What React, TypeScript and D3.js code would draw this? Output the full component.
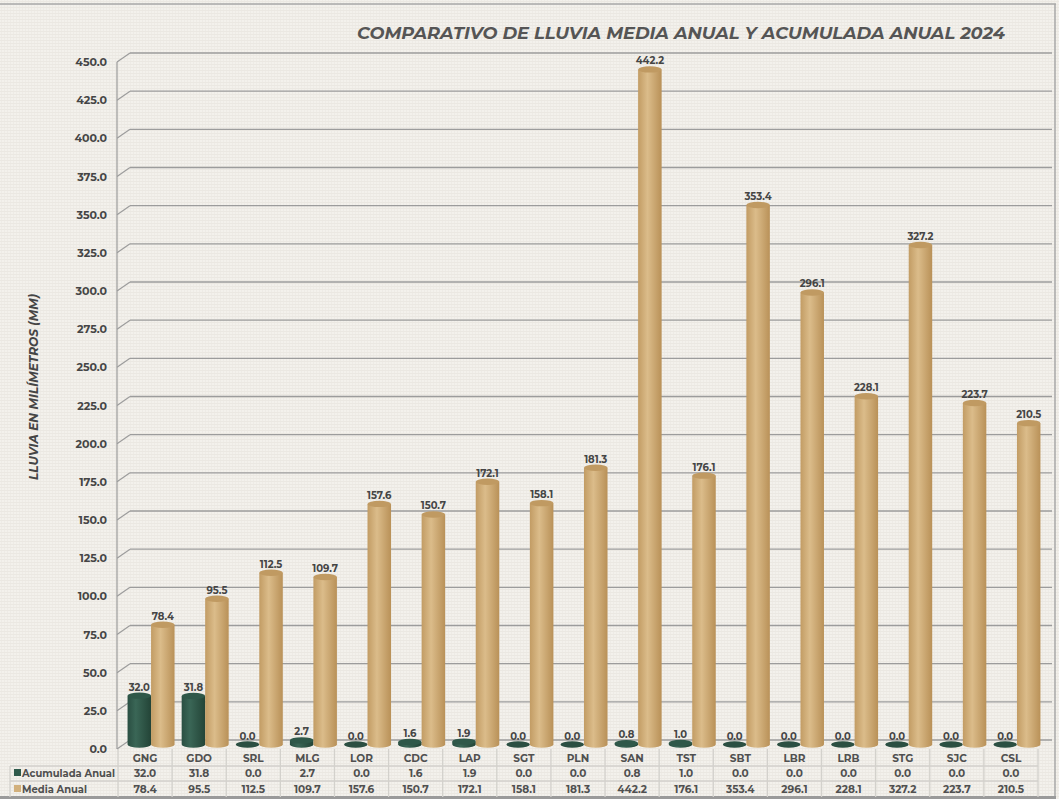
import React from 'react';
import * as d3 from 'd3';

const categories = ['GNG', 'GDO', 'SRL', 'MLG', 'LOR', 'CDC', 'LAP', 'SGT', 'PLN', 'SAN', 'TST', 'SBT', 'LBR', 'LRB', 'STG', 'SJC', 'CSL'];
const acumulada = [32.0, 31.8, 0.0, 2.7, 0.0, 1.6, 1.9, 0.0, 0.0, 0.8, 1.0, 0.0, 0.0, 0.0, 0.0, 0.0, 0.0];
const media = [78.4, 95.5, 112.5, 109.7, 157.6, 150.7, 172.1, 158.1, 181.3, 442.2, 176.1, 353.4, 296.1, 228.1, 327.2, 223.7, 210.5];
const yTicks = d3.range(0, 451, 25);

const W = 1059;
const H = 799;
const DX = 13;
const DY = -9;
const FONT = "Montserrat, 'Open Sans', 'DejaVu Sans', sans-serif";
const TXT = '#454545';

const x = d3.scaleBand<string>().domain(categories).range([118, 1038]);
const y = d3.scaleLinear().domain([0, 450]).range([749, 62]);

const BAR_W = 23.5;
const RX = BAR_W / 2;
const RY = 3.2;

function Cylinder({ cx, value, fillId, topFill, flat }: { cx: number; value: number; fillId: string; topFill: string; flat: string }) {
  const base = y(0) + DY / 2;
  const top = y(value) + DY / 2;
  const x0 = cx - RX;
  if (value < 0.5) {
    return <ellipse cx={cx} cy={base} rx={RX} ry={RY} fill={flat} />;
  }
  const body = `M${x0},${top} L${x0},${base} A${RX},${RY} 0 0 0 ${x0 + BAR_W},${base} L${x0 + BAR_W},${top} Z`;
  return (
    <g>
      <path d={body} fill={`url(#${fillId})`} />
      <ellipse cx={cx} cy={top} rx={RX} ry={RY} fill={topFill} />
    </g>
  );
}

export default function App() {
  const bw = x.bandwidth();
  const tableTop = 749;
  const rows = [766, 781, 797];
  return (
    <svg width={W} height={H} style={{ position: 'absolute', left: 0, top: 0 }} fontFamily={FONT}>
      <defs>
        <pattern id="tex" width="6" height="6" patternUnits="userSpaceOnUse">
          <rect width="6" height="6" fill="#f3f1ec" />
          <path d="M0,1.5 H6 M0,4.5 H6" stroke="#e9e6df" strokeWidth="0.8" />
          <path d="M1.5,0 V6 M4.5,0 V6" stroke="#ebe8e2" strokeWidth="0.6" />
        </pattern>
        <linearGradient id="gDark" x1="0" x2="1" y1="0" y2="0">
          <stop offset="0" stopColor="#2a4f42" />
          <stop offset="0.35" stopColor="#3a6656" />
          <stop offset="1" stopColor="#234437" />
        </linearGradient>
        <linearGradient id="gTan" x1="0" x2="1" y1="0" y2="0">
          <stop offset="0" stopColor="#c29c64" />
          <stop offset="0.4" stopColor="#dbbc8a" />
          <stop offset="1" stopColor="#b99158" />
        </linearGradient>
      </defs>
      <rect width={W} height={H} fill="url(#tex)" />
      <line x1={0} x2={1056} y1={4} y2={4} stroke="#a8a8a8" strokeWidth={1.5} />
      <line x1={1055} x2={1055} y1={4} y2={797} stroke="#a8a8a8" strokeWidth={1.5} />
      <line x1={0} x2={1056} y1={797.5} y2={797.5} stroke="#9a9a9a" strokeWidth={3} />

      <text x={681} y={39} textAnchor="middle" fontSize={17} fontWeight={700} fontStyle="italic" fill="#555" textLength={648} lengthAdjust="spacingAndGlyphs">
        COMPARATIVO  DE LLUVIA MEDIA ANUAL Y ACUMULADA ANUAL 2024
      </text>

      {/* gridlines on the back wall */}
      {yTicks.map((t) => (
        <g key={t}>
          <line x1={117 + DX} x2={1052} y1={y(t) + DY} y2={y(t) + DY} stroke="#9c9c9c" strokeWidth={1.4} />
          <line x1={117} x2={117 + DX} y1={y(t)} y2={y(t) + DY} stroke="#9c9c9c" strokeWidth={1.2} />
          <text x={107} y={y(t) + 4} textAnchor="end" fontSize={11} fontWeight={700} fill={TXT}>
            {t.toFixed(1)}
          </text>
        </g>
      ))}
      <line x1={117} x2={117} y1={y(450)} y2={y(0)} stroke="#9c9c9c" strokeWidth={1.2} />

      <text transform={`translate(38,387) rotate(-90)`} textAnchor="middle" fontSize={12} fontWeight={700} fontStyle="italic" fill={TXT} textLength={186} lengthAdjust="spacingAndGlyphs">
        LLUVIA EN MILÍMETROS (MM)
      </text>

      {/* bars */}
      {categories.map((c, i) => {
        const center = (x(c) as number) + bw / 2 + 6;
        const cxA = center - BAR_W / 2;
        const cxM = center + BAR_W / 2;
        return (
          <g key={c}>
            <Cylinder cx={cxA} value={acumulada[i]} fillId="gDark" topFill="#2f5849" flat="#2b4f42" />
            <Cylinder cx={cxM} value={media[i]} fillId="gTan" topFill="#c09a62" flat="#c09a62" />
            <text x={cxA} y={y(acumulada[i]) + DY / 2 - 5} textAnchor="middle" fontSize={10} fontWeight={700} fill={TXT}>
              {acumulada[i].toFixed(1)}
            </text>
            <text x={cxM} y={y(media[i]) + DY / 2 - 5} textAnchor="middle" fontSize={10} fontWeight={700} fill={TXT}>
              {media[i].toFixed(1)}
            </text>
          </g>
        );
      })}

      {/* data table */}
      <g stroke="#d3d1cc" strokeWidth={1.3}>
        <line x1={10} x2={1038} y1={rows[0]} y2={rows[0]} />
        <line x1={10} x2={1038} y1={rows[1]} y2={rows[1]} />
        <line x1={10} x2={10} y1={rows[0]} y2={rows[2]} />
        {categories.map((c) => (
          <line key={c} x1={x(c) as number} x2={x(c) as number} y1={tableTop} y2={rows[2]} />
        ))}
        <line x1={1038} x2={1038} y1={tableTop} y2={rows[2]} />
      </g>
      {categories.map((c, i) => {
        const cx = (x(c) as number) + bw / 2;
        return (
          <g key={c} fontSize={10.5} fontWeight={700} fill="#505050" textAnchor="middle">
            <text x={cx} y={762}>{c}</text>
            <text x={cx} y={777}>{acumulada[i].toFixed(1)}</text>
            <text x={cx} y={793}>{media[i].toFixed(1)}</text>
          </g>
        );
      })}
      <rect x={14} y={769} width={7} height={7} fill="#2f5a4b" />
      <text x={22} y={777} fontSize={10.5} fontWeight={700} fill="#505050" textLength={93} lengthAdjust="spacingAndGlyphs">Acumulada Anual</text>
      <rect x={14} y={785} width={7} height={7} fill="#d2b07c" />
      <text x={22} y={793} fontSize={10.5} fontWeight={700} fill="#505050" textLength={65} lengthAdjust="spacingAndGlyphs">Media Anual</text>
    </svg>
  );
}
